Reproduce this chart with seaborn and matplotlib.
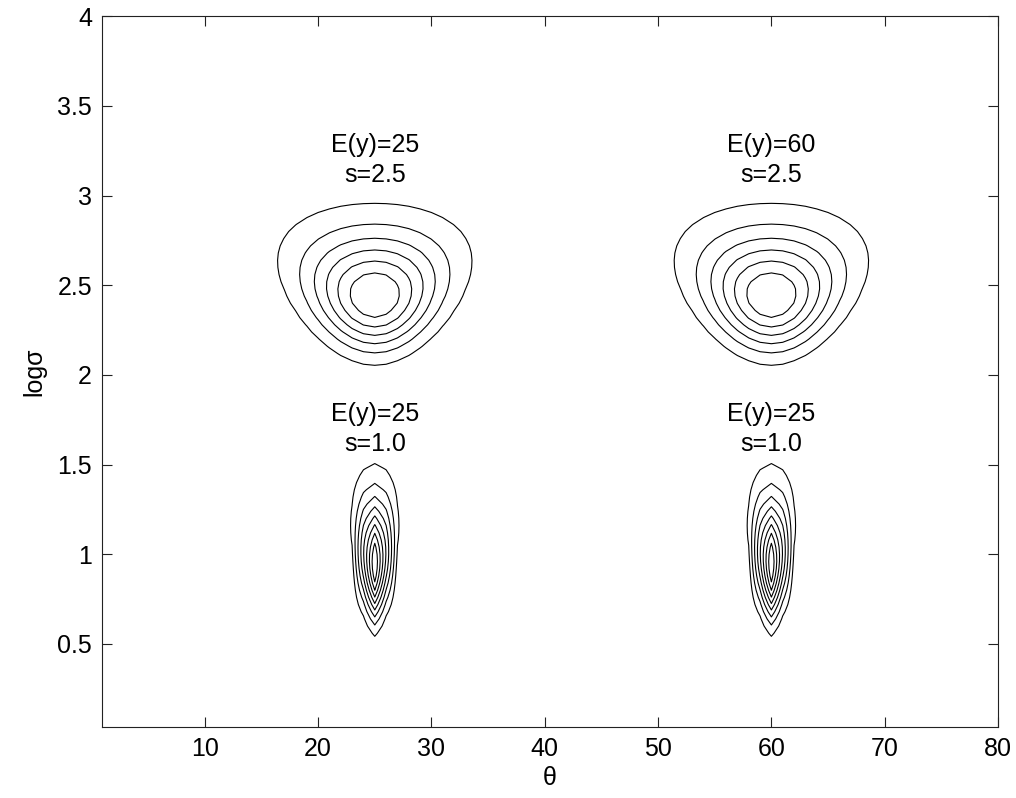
import numpy as np
import matplotlib
matplotlib.use("Agg")
import matplotlib.pyplot as plt
import seaborn as sns

# likelihood surfaces: centre of each bump (theta, log sigma) and the number of contour levels
centre_theta = [25, 60, 25, 60]
centre_logsig = [2.44, 2.44, 0.95, 0.95]
n_levels = [6, 6, 8, 8]
sample_n = 10
theta_scale = 1.08

# annotation text and where it sits
label_text = ["E(y)=25\ns=2.5", "E(y)=60\ns=2.5", "E(y)=25\ns=1.0", "E(y)=25\ns=1.0"]
label_theta = [25, 60, 25, 60]
label_logsig = [3.20, 3.20, 1.70, 1.70]

x_ticks = [10, 20, 30, 40, 50, 60, 70, 80]
y_ticks = [0.5, 1, 1.5, 2, 2.5, 3, 3.5, 4]
y_ticklabels = ["0.5", "1", "1.5", "2", "2.5", "3", "3.5", "4"]

theta = np.arange(1, 81)
logsig = np.linspace(0.04, 4, 100)
T, S = np.meshgrid(theta, logsig)

sns.set_style("ticks")
plt.rcParams["font.family"] = ["Liberation Sans", "DejaVu Sans"]
plt.rcParams["xtick.direction"] = "in"
plt.rcParams["ytick.direction"] = "in"
for key in ["text.color", "axes.labelcolor", "xtick.labelcolor", "ytick.labelcolor"]:
    plt.rcParams[key] = "black"

fig = plt.figure(figsize=(10.16, 7.98), dpi=100)
ax = fig.add_axes([101.7 / 1016, 71 / 798, (998 - 101.7) / 1016, (727 - 16.3) / 798])

for mu, tau0, nl in zip(centre_theta, centre_logsig, n_levels):
    s0 = np.exp(tau0)
    ll = -sample_n * (S - tau0) - sample_n * (s0 ** 2 + ((T - mu) / theta_scale) ** 2) / (2 * np.exp(2 * S)) + sample_n / 2
    L = np.exp(ll)
    levels = [k / (nl + 1) for k in range(1, nl + 1)]
    ax.contour(T, S, L, levels=levels, colors="black", linewidths=0.8)

for txt, xt, yt in zip(label_text, label_theta, label_logsig):
    ax.text(xt, yt, txt, ha="center", va="center", fontsize=18, linespacing=1.3, color="black")

ax.set_xlim(0.9, 80)
ax.set_ylim(0.037, 4)
ax.set_xticks(x_ticks)
ax.set_yticks(y_ticks)
ax.set_yticklabels(y_ticklabels)
ax.tick_params(axis="both", which="both", top=True, right=True, length=7, width=0.8,
               labelsize=18, pad=7, color="#222222", labelcolor="black")
for sp in ax.spines.values():
    sp.set_linewidth(0.8)
    sp.set_color("#222222")
ax.set_xlabel("θ", fontsize=18, labelpad=4, color="black")
ax.set_ylabel("logσ", fontsize=18, labelpad=8, color="black")

fig.savefig("out.png", dpi=100)
